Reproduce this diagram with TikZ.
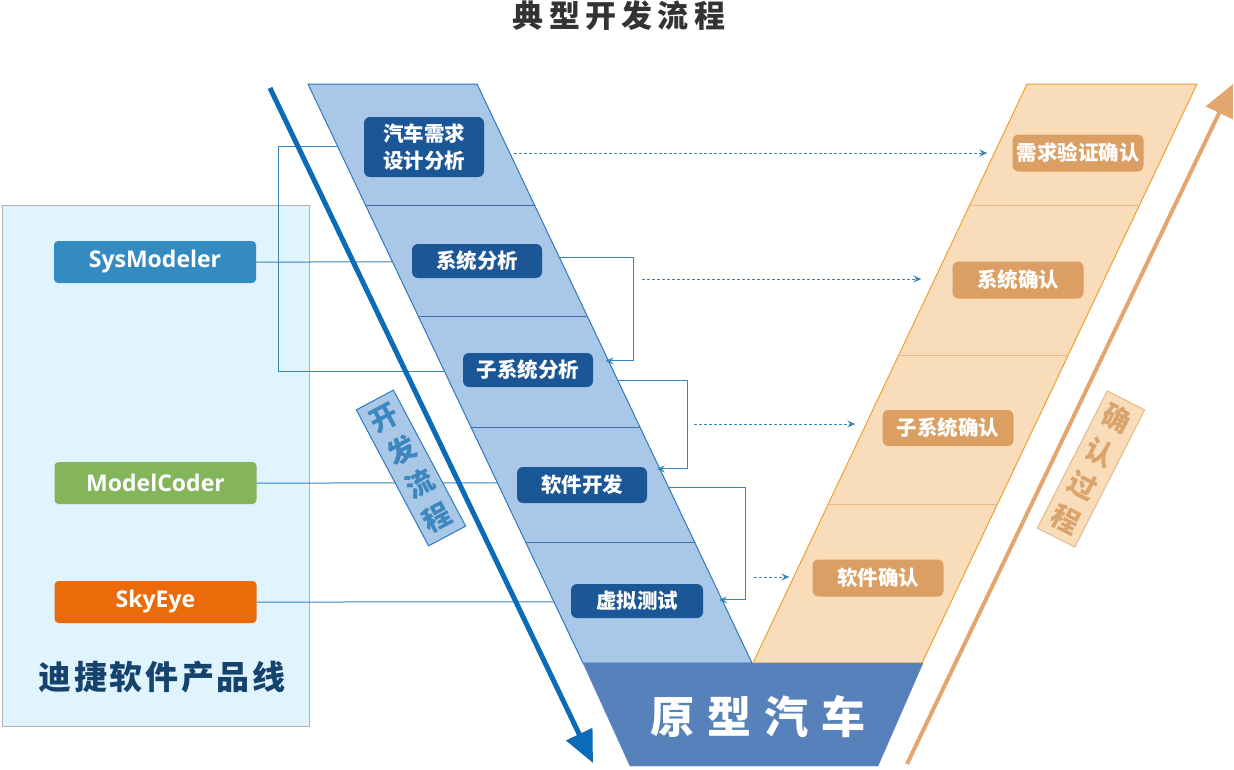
\documentclass[tikz,border=0pt]{standalone}
\usepackage{fontspec}
\setmainfont{Noto Sans CJK SC}
\newfontfamily\latinsans{Open Sans}
\usepackage{tikz}
\usetikzlibrary{arrows.meta}
\usepackage{tkz-euclide}

\definecolor{bandblue}{HTML}{A9C8E8}
\definecolor{edgeblue}{HTML}{2E78BE}
\definecolor{cutblue}{HTML}{3A6FA8}
\definecolor{stageblue}{HTML}{1B5797}
\definecolor{bandorange}{HTML}{F9DCBA}
\definecolor{edgeorange}{HTML}{F0A030}
\definecolor{cutorange}{HTML}{E8B888}
\definecolor{checkorange}{HTML}{DB9F63}
\definecolor{carblue}{HTML}{5781BB}
\definecolor{panelblue}{HTML}{DFF4FC}
\definecolor{linkblue}{HTML}{3A84BC}
\definecolor{devblue}{HTML}{0A6CB8}
\definecolor{devtext}{HTML}{3D87C0}
\definecolor{chkarrow}{HTML}{E2A66E}
\definecolor{chktext}{HTML}{DBA46C}
\definecolor{sysblue}{HTML}{338BC2}
\definecolor{codergreen}{HTML}{84B55A}
\definecolor{eyeorange}{HTML}{EB6A0A}
\definecolor{navytext}{HTML}{16426E}

\tikzset{
  stagebox/.style={fill=stageblue, text=white, rounded corners=6pt,
    font=\bfseries\fontsize{20.5}{27}\selectfont, minimum width=130pt,
    minimum height=34pt, inner sep=0pt, align=center},
  checkbox/.style={stagebox, fill=checkorange, minimum width=131pt, minimum height=37pt},
  toolbox/.style={text=white, rounded corners=4pt,
    font=\latinsans\bfseries\fontsize{23}{26}\selectfont,
    minimum width=202pt, minimum height=42pt, inner sep=0pt},
  linkline/.style={draw=linkblue, line width=1pt},
  backline/.style={linkline, -{Stealth[length=8pt,width=7pt,inset=3pt]}},
  peerline/.style={linkline, dash pattern=on 3pt off 2pt,
    -{Stealth[length=8pt,width=7pt,inset=3pt]}},
  tagbox/.style={minimum width=42pt, minimum height=154pt, inner sep=0pt,
    align=center, line width=1pt, font=\bfseries\fontsize{28}{37.6}\selectfont}
}

\begin{document}
\begin{tikzpicture}[x=1pt,y=-1pt]
  \useasboundingbox (0,0) rectangle (1234,769);

  \tkzDefPoint(308,84){BA} \tkzDefPoint(477,84){BB}
  \tkzDefPoint(752,663){BC} \tkzDefPoint(583,663){BD}
  \tkzDefPoint(1027,84){OA} \tkzDefPoint(1197,84){OB}
  \tkzDefPoint(922,663){OC} \tkzDefPoint(753,663){OD}
  \tkzDefPoint(923,663){CA} \tkzDefPoint(878,766){CB}
  \tkzDefPoint(630,766){CC}

  \node[text=black!80, font=\bfseries\fontsize{31}{34}\selectfont\addfontfeature{LetterSpace=17}]
    (title) at (619,16) {典型开发流程};

  \draw[draw=black!30, fill=panelblue, line width=1pt] (2,205) rectangle (309,726);

  \filldraw[fill=bandblue, draw=edgeblue, line width=1pt] (BA) -- (BB) -- (BC) -- (BD) -- cycle;
  \filldraw[fill=bandorange, draw=edgeorange, line width=1pt] (OA) -- (OB) -- (OC) -- (OD) -- cycle;
  \filldraw[fill=carblue, draw=carblue] (BD) -- (CA) -- (CB) -- (CC) -- cycle;

  \draw[cutblue, line width=1pt] (365.5,205) -- (534.5,205);
  \draw[cutblue, line width=1pt] (418.2,316) -- (587.2,316);
  \draw[cutblue, line width=1pt] (470.9,427) -- (639.9,427);
  \draw[cutblue, line width=1pt] (525.5,542) -- (694.5,542);
  \draw[cutorange, line width=1pt] (969.7,205) -- (1139.7,205);
  \draw[cutorange, line width=1pt] (898.8,355) -- (1068.8,355);
  \draw[cutorange, line width=1pt] (828.3,504) -- (998.3,504);

  \node[stagebox, minimum width=120pt, minimum height=60pt] (req) at (424,147) {汽车需求\\设计分析};
  \node[stagebox] (sys) at (477,261) {系统分析};
  \node[stagebox] (sub) at (528,370) {子系统分析};
  \node[stagebox, minimum height=36pt] (sw) at (582,485) {软件开发};
  \node[stagebox, minimum width=132pt] (vt) at (637,601) {虚拟测试};

  \node[checkbox] (vreq) at (1078,153) {需求验证确认};
  \node[checkbox] (vsys) at (1018,280) {系统确认};
  \node[checkbox, minimum height=36pt] (vsub) at (948,428) {子系统确认};
  \node[checkbox] (vsw) at (878,578) {软件确认};

  \node[text=white, font=\bfseries\fontsize{44}{48}\selectfont\addfontfeature{LetterSpace=30}]
    (car) at (758,717) {原型汽车};

  \node[toolbox, fill=sysblue] (sysm) at (155,262) {SysModeler};
  \node[toolbox, fill=codergreen] (coder) at (155.5,483) {ModelCoder};
  \node[toolbox, fill=eyeorange] (eye) at (155.5,602) {SkyEye};
  \node[text=navytext, font=\bfseries\fontsize{33}{36}\selectfont\addfontfeature{LetterSpace=8}]
    (family) at (162,677) {迪捷软件产品线};

  \coordinate (reqL) at (intersection of BA--BD and 0,147--10,147);
  \coordinate (sysL) at (intersection of BA--BD and 0,262--10,262);
  \coordinate (subL) at (intersection of BA--BD and 0,372--10,372);
  \coordinate (swL) at (intersection of BA--BD and 0,483--10,483);
  \coordinate (vtL) at (intersection of BA--BD and 0,602--10,602);
  \coordinate (sysR) at (intersection of BB--BC and 0,258--10,258);
  \coordinate (subR) at (intersection of BB--BC and 0,361--10,361);
  \coordinate (subRo) at (intersection of BB--BC and 0,381--10,381);
  \coordinate (swR) at (intersection of BB--BC and 0,469--10,469);
  \coordinate (swRo) at (intersection of BB--BC and 0,488--10,488);
  \coordinate (vtR) at (intersection of BB--BC and 0,600--10,600);

  \draw[linkline] (reqL) -- ++(-59,0) |- (subL);
  \draw[linkline] (sysm.east) -- (sysL);
  \draw[linkline] (coder.east) -- (swL);
  \draw[linkline] (eye.east) -- (vtL);

  \draw[backline, shorten >=-3pt] (sysR) -- ++(74,0) |- (subR);
  \draw[backline, shorten >=-3pt] (subRo) -- ++(69,0) |- (swR);
  \draw[backline, shorten >=-3pt] (swRo) -- ++(77,0) |- (vtR);

  \coordinate (d1) at (514,153);
  \coordinate (d2) at (642,279);
  \coordinate (d3) at (694,424);
  \coordinate (d4) at (754,577);
  \draw[peerline, shorten >=25pt] (d1) -- (d1 -| vreq.west);
  \draw[peerline, shorten >=31pt] (d2) -- (d2 -| vsys.west);
  \draw[peerline, shorten >=27pt] (d3) -- (d3 -| vsub.west);
  \draw[peerline, shorten >=23pt] (d4) -- (d4 -| vsw.west);

  \coordinate (devS) at (270,88);
  \coordinate (devE) at (593,763);
  \draw[devblue, line width=5pt, -{Triangle[length=32pt,width=28pt]}] (devS) -- (devE);
  \coordinate (chkS) at (907,764);
  \coordinate (chkE) at (1233,84);
  \draw[chkarrow, line width=4pt, -{Triangle[length=32pt,width=29pt]}] (chkS) -- (chkE);

  \node[tagbox, fill=bandblue, draw=edgeblue, text=devtext, rotate=28] (devtag) at (411,468) {开\\发\\流\\程};
  \node[tagbox, fill=bandorange, draw=cutorange, text=chktext, rotate=-27] (chktag) at (1091,469) {确\\认\\过\\程};

\end{tikzpicture}
\end{document}
